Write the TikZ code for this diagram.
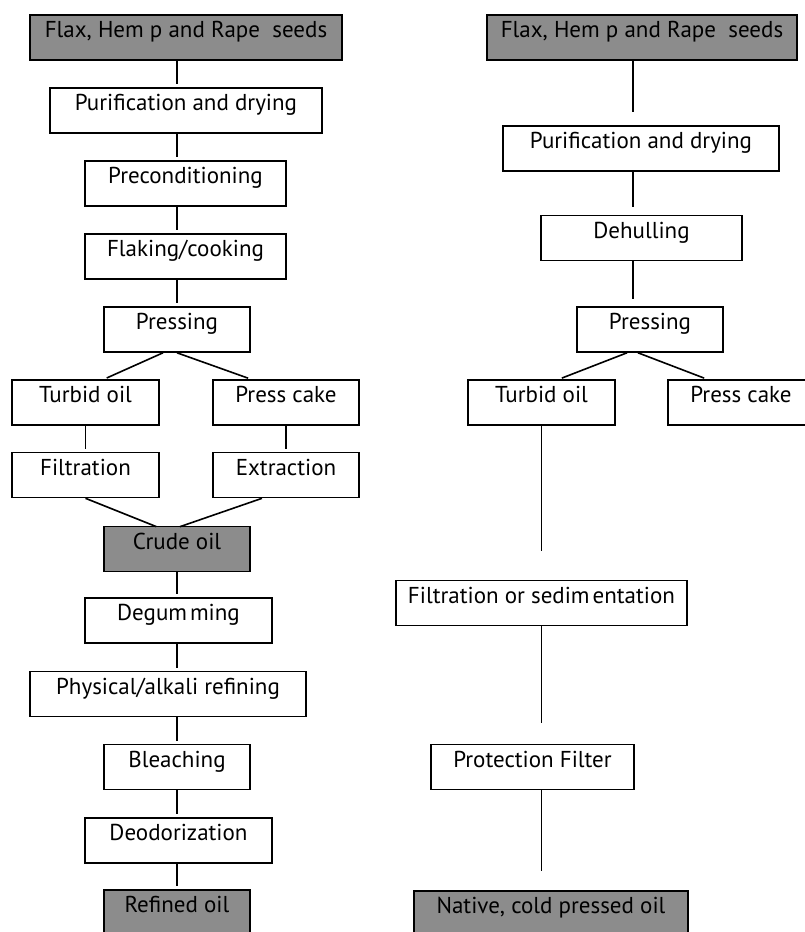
\documentclass[tikz,border=0pt]{standalone}
\usepackage{fontspec}
\setmainfont{PT Sans}
\definecolor{boxgrey}{RGB}{140,140,140}

\begin{document}
\begin{tikzpicture}[x=1pt, y=-1pt, line width=1.6pt]
		\useasboundingbox (0,0) rectangle (804,932);
		\begin{scope}[every node/.style={rectangle, draw, inner sep=0pt, minimum height=45pt, text height=16pt, text depth=16pt, font=\fontsize{23}{27}\selectfont}]
			% conventional refining
			\node[fill=boxgrey, minimum width=312pt] (A) at (186,37.5) {Flax, Hem p and Rape\ \ seeds};
			\node[minimum width=272pt] (B) at (186,110.5) {Purification and drying};
			\node[minimum width=201pt] (C) at (185.5,183.5) {Preconditioning};
			\node[minimum width=201pt] (D) at (185.5,256.5) {Flaking/cooking};
			\node[minimum width=146pt] (E) at (177,329.5) {Pressing};
			\node[minimum width=147pt] (F) at (85.5,402.5) {Turbid oil};
			\node[minimum width=146pt] (G) at (286,402.5) {Press cake};
			\node[minimum width=147pt] (H) at (85.5,475) {Filtration};
			\node[minimum width=146pt] (I) at (286,475) {Extraction};
			\node[fill=boxgrey, minimum width=146pt] (J) at (177,549) {Crude oil};
			\node[minimum width=187pt] (K) at (178.5,620.5) {Degum\kern3pt ming};
			\node[minimum width=276pt] (L) at (168,694) {Physical/alkali refining};
			\node[minimum width=146pt] (M) at (177,767) {Bleaching};
			\node[minimum width=187pt] (N) at (178.5,840.5) {Deodorization};
			\node[fill=boxgrey, minimum width=146pt] (O) at (177,912.5) {Refined oil};

			% cold pressing
			\node[fill=boxgrey, minimum width=310pt] (P) at (642,37.5) {Flax, Hem p and Rape\ \ seeds};
			\node[minimum width=276pt] (Q) at (641,148.5) {Purification and drying};
			\node[minimum width=201pt] (R) at (641.5,238) {Dehulling};
			\node[minimum width=146pt] (S) at (650,329.5) {Pressing};
			\node[minimum width=147pt] (T) at (541.5,402.5) {Turbid oil};
			\node[minimum width=146pt] (U) at (741,402.5) {Press cake};
			\node[minimum width=291pt] (V) at (541.5,603) {Filtration or sedim\kern3pt entation};
			\node[minimum width=203pt] (W) at (532.5,767) {Protection Filter};
			\node[fill=boxgrey, minimum width=274pt] (X) at (551,913.5) {Native, cold pressed oil};
		\end{scope}

		\coordinate (axR) at (633,0);

		\begin{scope}[shorten >=3pt]
			\draw (A.south -| E) -- (B.north -| E);
			\draw (B.south -| E) -- (C.north -| E);
			\draw (C.south -| E) -- (D.north -| E);
			\draw (D.south -| E) -- (E.north);
			\draw ([xshift=-14pt]E.south) -- ([xshift=18.5pt]F.north);
			\draw (E.south) -- ([xshift=-35pt]G.north);
			\draw (F.south) -- (H.north);
			\draw (G.south) -- (I.north);
			\draw (H.south) -- ([xshift=-18pt,yshift=-2pt]J.north);
			\draw ([xshift=-24pt]I.south) -- ([yshift=-2pt]J.north);
			\draw (J.south) -- (K.north -| J);
			\draw (K.south -| J) -- (L.north -| J);
			\draw (L.south -| J) -- (M.north);
			\draw (M.south) -- (N.north -| M);
			\draw (N.south -| M) -- (O.north);

			\draw[shorten >=13pt] (P.south -| axR) -- (Q.north -| axR);
			\draw[shorten >=8pt] (Q.south -| axR) -- (R.north -| axR);
			\draw[shorten >=7pt] (R.south -| axR) -- (S.north -| axR);
			\draw ([xshift=-23pt]S.south) -- ([xshift=17.5pt]T.north);
			\draw ([xshift=-12pt]S.south) -- ([xshift=-34pt]U.north);
			\draw[shorten >=29pt] (T.south) -- (V.north);
			\draw[shorten >=21pt] (V.south) -- (W.north -| V);
			\draw[shorten >=19pt] (W.south -| V) -- (X.north -| V);
		\end{scope}
		\end{tikzpicture}
\end{document}
